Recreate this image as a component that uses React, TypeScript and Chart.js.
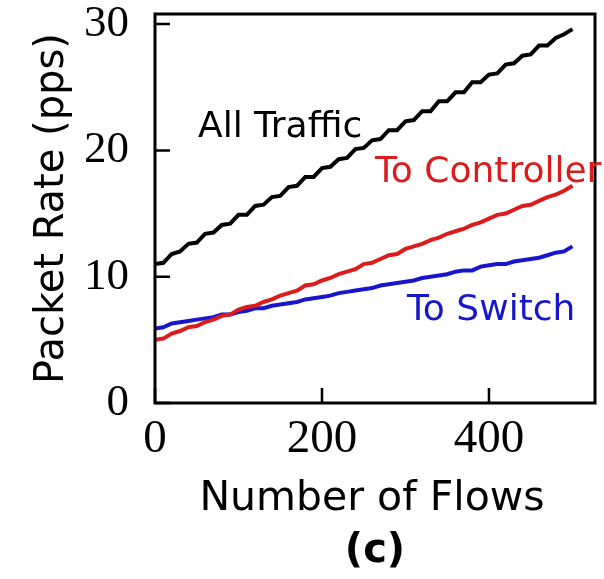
import React, { useEffect, useRef } from 'react';
import { Chart, registerables } from 'chart.js';

Chart.register(...registerables);

const FLOWS = [0, 10, 20, 30, 40, 50, 60, 70, 80, 90, 100, 110, 120, 130, 140, 150, 160, 170, 180, 190, 200, 210, 220, 230, 240, 250, 260, 270, 280, 290, 300, 310, 320, 330, 340, 350, 360, 370, 380, 390, 400, 410, 420, 430, 440, 450, 460, 470, 480, 490, 500];
const ALL_TRAFFIC = [11.0, 11.1, 11.8, 12.0, 12.6, 12.7, 13.4, 13.5, 14.1, 14.2, 14.9, 14.9, 15.6, 15.7, 16.3, 16.4, 17.1, 17.2, 17.9, 17.9, 18.6, 18.7, 19.3, 19.4, 20.1, 20.2, 20.8, 20.9, 21.6, 21.6, 22.3, 22.4, 23.1, 23.1, 23.9, 23.9, 24.6, 24.6, 25.4, 25.4, 26.0, 26.1, 26.8, 26.9, 27.5, 27.6, 28.3, 28.3, 28.9, 29.2, 29.6];
const TO_CONTROLLER = [5.0, 5.1, 5.5, 5.7, 6.0, 6.1, 6.4, 6.6, 6.9, 7.0, 7.4, 7.6, 7.7, 8.0, 8.2, 8.5, 8.7, 8.9, 9.3, 9.4, 9.7, 9.9, 10.2, 10.4, 10.6, 11.0, 11.1, 11.4, 11.7, 11.8, 12.2, 12.4, 12.6, 12.9, 13.1, 13.4, 13.6, 13.8, 14.1, 14.3, 14.6, 14.9, 15.0, 15.3, 15.6, 15.7, 16.0, 16.3, 16.5, 16.8, 17.2];
const TO_SWITCH = [5.9, 6.0, 6.3, 6.4, 6.5, 6.6, 6.7, 6.8, 7.0, 7.0, 7.2, 7.3, 7.5, 7.5, 7.7, 7.8, 7.9, 8.0, 8.2, 8.3, 8.4, 8.5, 8.7, 8.8, 8.9, 9.0, 9.1, 9.3, 9.4, 9.5, 9.6, 9.7, 9.9, 10.0, 10.1, 10.2, 10.4, 10.5, 10.5, 10.8, 10.9, 11.0, 11.0, 11.2, 11.3, 11.4, 11.5, 11.7, 11.9, 12.0, 12.4];
const X_TICKS = [0, 200, 400];
const Y_TICKS = [0, 10, 20, 30];

const SERIES_NAMES = ['All Traffic', 'To Controller', 'To Switch'];
const SERIES_COLORS = ['#000000', '#dc1c1c', '#1616cc'];
const X_TITLE = 'Number of Flows';
const Y_TITLE = 'Packet Rate (pps)';
const SUBCAPTION = '(c)';

const SANS = '"DejaVu Sans", sans-serif';
const SERIF = '"Liberation Serif", serif';

const toPoints = (ys: number[]) => FLOWS.map((x, i) => ({ x, y: ys[i] }));

const decorPlugin = {
  id: 'decor',
  afterDraw(chart: any) {
    const ctx = chart.ctx as CanvasRenderingContext2D;
    const { left, right, top, bottom } = chart.chartArea;
    const xs = chart.scales.x;
    const ys = chart.scales.y;
    ctx.save();
    ctx.strokeStyle = '#000';
    ctx.lineWidth = 3;
    ctx.strokeRect(left, top, right - left, bottom - top);
    ctx.lineWidth = 2.5;
    ctx.beginPath();
    X_TICKS.forEach((v) => {
      const px = xs.getPixelForValue(v);
      ctx.moveTo(px, bottom);
      ctx.lineTo(px, bottom - 15);
    });
    Y_TICKS.forEach((v) => {
      const py = ys.getPixelForValue(v);
      ctx.moveTo(left, py);
      ctx.lineTo(left + 15, py);
    });
    ctx.stroke();

    // series annotations
    ctx.font = `36px ${SANS}`;
    ctx.textBaseline = 'alphabetic';
    ctx.textAlign = 'left';
    ctx.fillStyle = SERIES_COLORS[0];
    ctx.fillText(SERIES_NAMES[0], 198, 137);
    ctx.fillStyle = SERIES_COLORS[1];
    ctx.fillText(SERIES_NAMES[1], 375, 182);
    ctx.fillStyle = SERIES_COLORS[2];
    ctx.fillText(SERIES_NAMES[2], 407, 320);

    // axis titles
    const cx = (left + right) / 2;
    ctx.fillStyle = '#000';
    ctx.textAlign = 'center';
    ctx.font = `41px ${SANS}`;
    ctx.fillText(X_TITLE, cx - 3, 510);
    ctx.font = `bold 40px ${SANS}`;
    ctx.fillText(SUBCAPTION, cx, 562);

    ctx.save();
    ctx.translate(63, (top + bottom) / 2);
    ctx.rotate(-Math.PI / 2);
    ctx.font = `40px ${SANS}`;
    ctx.textAlign = 'center';
    ctx.fillText(Y_TITLE, 0, 0);
    ctx.restore();
    ctx.restore();
  },
};

export default function App() {
  const ref = useRef<HTMLCanvasElement | null>(null);
  useEffect(() => {
    if (!ref.current) return;
    const chart = new Chart(ref.current, {
      type: 'line',
      data: {
        datasets: [ALL_TRAFFIC, TO_CONTROLLER, TO_SWITCH].map((d, i) => ({
          label: SERIES_NAMES[i],
          data: toPoints(d),
          borderColor: SERIES_COLORS[i],
          backgroundColor: SERIES_COLORS[i],
          borderWidth: 4,
          pointRadius: 0,
          tension: 0,
          fill: false,
        })),
      },
      options: {
        responsive: false,
        animation: false,
        devicePixelRatio: 1,
        layout: { padding: { top: 14, right: 9, left: 0, bottom: 0 } },
        plugins: { legend: { display: false }, tooltip: { enabled: false }, title: { display: false } },
        scales: {
          x: {
            type: 'linear',
            min: 0,
            max: 527,
            grid: { display: false },
            border: { display: false },
            afterBuildTicks: (s: any) => { s.ticks = X_TICKS.map((v) => ({ value: v })); },
            afterFit: (s: any) => { s.height = 176; s.paddingLeft = 0; s.paddingRight = 0; },
            ticks: { font: { family: SERIF, size: 47 }, color: '#000', padding: 0, maxRotation: 0 },
          },
          y: {
            type: 'linear',
            min: 0,
            max: 30.8,
            grid: { display: false },
            border: { display: false },
            afterBuildTicks: (s: any) => { s.ticks = Y_TICKS.map((v) => ({ value: v })); },
            afterFit: (s: any) => { s.width = 155; s.paddingTop = 0; s.paddingBottom = 0; },
            ticks: { font: { family: SERIF, size: 45 }, color: '#000', padding: 18 },
          },
        },
      },
      plugins: [decorPlugin],
    } as any);
    return () => chart.destroy();
  }, []);
  return (
    <div style={{ position: 'fixed', left: 0, top: 0, width: 604, height: 579, background: '#fff' }}>
      <canvas ref={ref} width={604} height={579} style={{ display: 'block' }} />
    </div>
  );
}
